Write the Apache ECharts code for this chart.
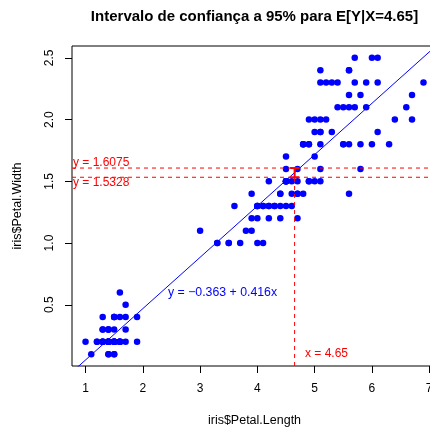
<!DOCTYPE html>
<html>
<head>
<meta charset="utf-8">
<script src="https://cdn.jsdelivr.net/npm/echarts@6/dist/echarts.min.js"></script>
<style>
html,body{margin:0;padding:0;overflow:hidden;background:#fff;}
#chart{width:445px;height:429px;}
</style>
</head>
<body>
<div id="chart"></div>
<script>
// iris$Petal.Length
const petalLength = [
1.4,1.4,1.3,1.5,1.4,1.7,1.4,1.5,1.4,1.5,
1.5,1.6,1.4,1.1,1.2,1.5,1.3,1.4,1.7,1.5,
1.7,1.5,1.0,1.7,1.9,1.6,1.6,1.5,1.4,1.6,
1.6,1.5,1.5,1.4,1.5,1.2,1.3,1.4,1.3,1.5,
1.3,1.3,1.3,1.6,1.9,1.4,1.6,1.4,1.5,1.4,
4.7,4.5,4.9,4.0,4.6,4.5,4.7,3.3,4.6,3.9,
3.5,4.2,4.0,4.7,3.6,4.4,4.5,4.1,4.5,3.9,
4.8,4.0,4.9,4.7,4.3,4.4,4.8,5.0,4.5,3.5,
3.8,3.7,3.9,5.1,4.5,4.5,4.7,4.4,4.1,4.0,
4.4,4.6,4.0,3.3,4.2,4.2,4.2,4.3,3.0,4.1,
6.0,5.1,5.9,5.6,5.8,6.6,4.5,6.3,5.8,6.1,
5.1,5.3,5.5,5.0,5.1,5.3,5.5,6.7,6.9,5.0,
5.7,4.9,6.7,4.9,5.7,6.0,4.8,4.9,5.6,5.8,
6.1,6.4,5.6,5.1,5.6,6.1,5.6,5.5,4.8,5.4,
5.6,5.1,5.1,5.9,5.7,5.2,5.0,5.2,5.4,5.1
];
// iris$Petal.Width
const petalWidth = [
0.2,0.2,0.2,0.2,0.2,0.4,0.3,0.2,0.2,0.1,
0.2,0.2,0.1,0.1,0.2,0.4,0.4,0.3,0.3,0.3,
0.2,0.4,0.2,0.5,0.2,0.2,0.4,0.2,0.2,0.2,
0.2,0.4,0.1,0.2,0.2,0.2,0.2,0.1,0.2,0.2,
0.3,0.3,0.2,0.6,0.4,0.3,0.2,0.2,0.2,0.2,
1.4,1.5,1.5,1.3,1.5,1.3,1.6,1.0,1.3,1.4,
1.0,1.5,1.0,1.4,1.3,1.4,1.5,1.0,1.5,1.1,
1.8,1.3,1.5,1.2,1.3,1.4,1.4,1.7,1.5,1.0,
1.1,1.0,1.2,1.6,1.5,1.6,1.5,1.3,1.3,1.3,
1.2,1.4,1.2,1.0,1.3,1.2,1.3,1.3,1.1,1.3,
2.5,1.9,2.1,1.8,2.2,2.1,1.7,1.8,1.8,2.5,
2.0,1.9,2.1,2.0,2.4,2.3,1.8,2.2,2.3,1.5,
2.3,2.0,2.0,1.8,2.1,1.8,1.8,1.8,2.1,1.6,
1.9,2.0,2.2,1.5,1.4,2.3,2.4,1.8,1.8,2.1,
2.4,2.3,1.9,2.3,2.5,2.3,1.9,2.0,2.3,1.8
];
const coefficients = [-0.3631, 0.4158];   // intercept, slope
const x0 = 4.65;
const ciBounds = [1.5328, 1.6075];         // lower, upper
const xTicks = [1, 2, 3, 4, 5, 6, 7];
const yTicks = [0.5, 1.0, 1.5, 2.0, 2.5];
const xTickLabels = ['1', '2', '3', '4', '5', '6', '7'];
const yTickLabels = ['0.5', '1.0', '1.5', '2.0', '2.5'];

const FONT = '"Liberation Sans", Arial, Helvetica, sans-serif';

function extRange(arr) {
  const lo = Math.min(...arr), hi = Math.max(...arr);
  const d = (hi - lo) * 0.04;
  return [lo - d, hi + d];
}
const [xMin, xMax] = extRange(petalLength);
const [yMin, yMax] = extRange(petalWidth);

const points = petalLength.map((v, i) => [v, petalWidth[i]]);
const fit = x => coefficients[0] + coefficients[1] * x;
const regLine = [[xMin, fit(xMin)], [xMax, fit(xMax)]];

const chart = echarts.init(document.getElementById('chart'), null, {renderer: 'canvas'});

const axisCommon = {
  type: 'value',
  axisLine: {show: false},
  splitLine: {show: false},
  axisTick: {show: true, inside: false, length: 7, lineStyle: {color: '#000', width: 1}},
};

chart.setOption({
  animation: false,
  backgroundColor: '#fff',
  grid: {left: 72, top: 46, width: 365, height: 320, show: true, borderColor: '#000', borderWidth: 1, backgroundColor: 'transparent'},
  xAxis: Object.assign({}, axisCommon, {
    min: xMin, max: xMax,
    axisTick: Object.assign({}, axisCommon.axisTick, {customValues: xTicks}),
    axisLabel: {customValues: xTicks, formatter: v => xTickLabels[xTicks.indexOf(v)] ?? String(v), margin: 17, fontSize: 12, color: '#000', fontFamily: FONT}
  }),
  yAxis: Object.assign({}, axisCommon, {
    min: yMin, max: yMax,
    axisTick: Object.assign({}, axisCommon.axisTick, {customValues: yTicks}),
    axisLabel: {customValues: yTicks, formatter: v => yTickLabels[yTicks.indexOf(v)] ?? String(v), rotate: 90, margin: 16, fontSize: 12, color: '#000', fontFamily: FONT}
  }),
  series: [
    {
      type: 'scatter', data: points, symbol: 'circle', symbolSize: 6.5,
      itemStyle: {color: '#0000FF', opacity: 1}, z: 2
    },
    {
      type: 'line', data: regLine, symbol: 'none', clip: true,
      lineStyle: {color: '#0000FF', width: 1}, z: 3
    },
    {
      type: 'line', data: [[xMin, ciBounds[1]], [xMax, ciBounds[1]]], symbol: 'none', clip: true,
      lineStyle: {color: '#FF0000', width: 1, type: [4, 4]}, z: 4
    },
    {
      type: 'line', data: [[xMin, ciBounds[0]], [xMax, ciBounds[0]]], symbol: 'none', clip: true,
      lineStyle: {color: '#FF0000', width: 1, type: [4, 4]}, z: 4
    },
    {
      type: 'line', data: [[x0, yMin], [x0, ciBounds[0]]], symbol: 'none', clip: true,
      lineStyle: {color: '#FF0000', width: 1, type: [4, 4]}, z: 4
    },
    {
      type: 'custom', z: 5,
      data: [[x0, ciBounds[0], ciBounds[1]]],
      encode: {x: 0, y: [1, 2]},
      renderItem: function (params, api) {
        const lo = api.coord([api.value(0), api.value(1)]);
        const hi = api.coord([api.value(0), api.value(2)]);
        const c = 4.5;
        const st = {stroke: '#FF0000', lineWidth: 2};
        return {type: 'group', children: [
          {type: 'line', shape: {x1: lo[0], y1: lo[1], x2: hi[0], y2: hi[1]}, style: st},
          {type: 'line', shape: {x1: lo[0] - c, y1: lo[1], x2: lo[0] + c, y2: lo[1]}, style: st},
          {type: 'line', shape: {x1: hi[0] - c, y1: hi[1], x2: hi[0] + c, y2: hi[1]}, style: st}
        ]};
      }
    }
  ],
  graphic: [
    {type: 'text', x: 254.5, y: 16.5, style: {text: 'Intervalo de confiança a 95% para E[Y|X=4.65]', font: 'bold 15px ' + FONT, fill: '#000', align: 'center', verticalAlign: 'middle'}},
    {type: 'text', x: 254.5, y: 420.5, style: {text: 'iris$Petal.Length', font: '12.5px ' + FONT, fill: '#000', align: 'center', verticalAlign: 'middle'}},
    {type: 'text', x: 18, y: 206, rotation: Math.PI / 2, style: {text: 'iris$Petal.Width', font: '12.5px ' + FONT, fill: '#000', align: 'center', verticalAlign: 'middle'}},
    {type: 'text', x: 73, y: 163, z: 10, style: {text: 'y = 1.6075', font: '12px ' + FONT, fill: '#FF0000', align: 'left', verticalAlign: 'middle'}},
    {type: 'text', x: 73, y: 183, z: 10, style: {text: 'y = 1.5328', font: '12px ' + FONT, fill: '#FF0000', align: 'left', verticalAlign: 'middle'}},
    {type: 'text', x: 305, y: 354, z: 10, style: {text: 'x = 4.65', font: '12px ' + FONT, fill: '#FF0000', align: 'left', verticalAlign: 'middle'}},
    {type: 'text', x: 168, y: 293, z: 10, style: {text: 'y = −0.363 + 0.416x', font: '12.3px ' + FONT, fill: '#0000FF', align: 'left', verticalAlign: 'middle'}}
  ]
});
</script>
</body>
</html>
